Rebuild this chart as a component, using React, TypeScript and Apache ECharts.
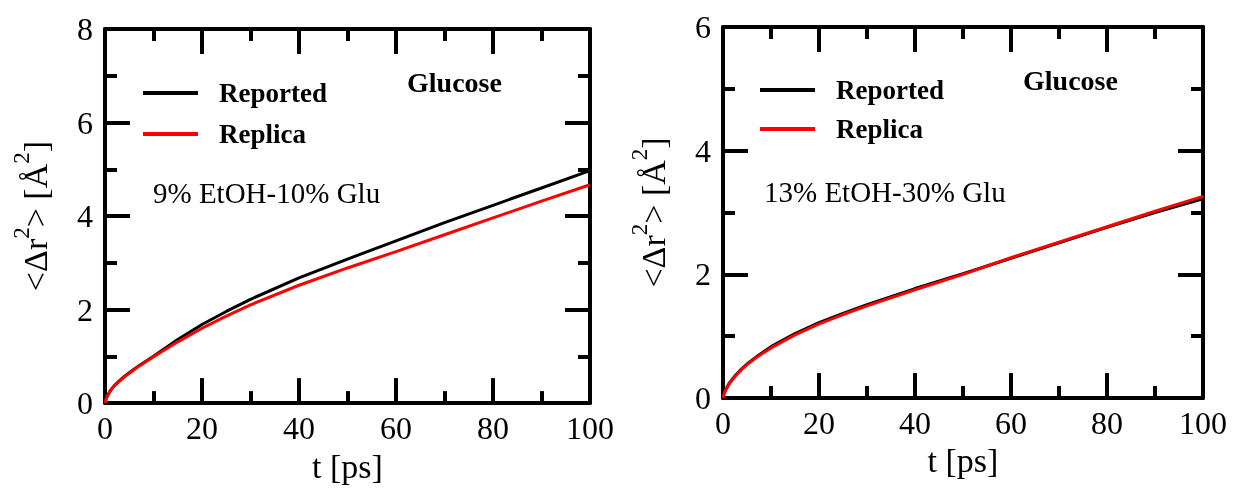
import React, { useEffect, useRef } from "react";
import * as echarts from "echarts";

const FONT = '"Liberation Serif", "Times New Roman", serif';

const times = [0, 0.25, 0.5, 1, 1.5, 2, 3, 4, 5, 7, 10, 15, 20, 25, 30, 40, 50, 60, 70, 80, 90, 100];
const leftReported = [0, 0.1, 0.15, 0.25, 0.32, 0.38, 0.48, 0.57, 0.65, 0.8, 1.0, 1.36, 1.68, 1.96, 2.22, 2.68, 3.08, 3.47, 3.86, 4.23, 4.60, 4.97];
const leftReplica = [0, 0.1, 0.15, 0.25, 0.32, 0.38, 0.47, 0.56, 0.64, 0.79, 0.99, 1.31, 1.60, 1.86, 2.10, 2.52, 2.89, 3.24, 3.60, 3.96, 4.32, 4.67];
const rightReported = [0, 0.08, 0.12, 0.2, 0.26, 0.31, 0.4, 0.48, 0.55, 0.67, 0.83, 1.04, 1.22, 1.37, 1.51, 1.77, 2.01, 2.26, 2.51, 2.76, 3.0, 3.22];
const rightReplica = [0, 0.08, 0.12, 0.19, 0.25, 0.3, 0.39, 0.47, 0.54, 0.66, 0.81, 1.02, 1.20, 1.35, 1.49, 1.75, 2.0, 2.27, 2.52, 2.77, 3.02, 3.26];

const seriesNames = ["Reported", "Replica"];
const seriesColors = ["#000000", "#ff0000"];
const panelTitles = ["Glucose", "Glucose"];
const panelNotes = ["9% EtOH-10% Glu", "13% EtOH-30% Glu"];
const xName = "t [ps]";
const yName = "{m|<Δr}{s|2}{m|> [Å}{s|2}{m|]}";
const leftYMax = 8;
const rightYMax = 6;

function pairs(xs: number[], ys: number[]) {
  return xs.map((x, i) => [x, ys[i]]);
}

function axisBase(max: number, interval: number, position: string) {
  return {
    type: "value",
    min: 0,
    max,
    interval,
    position,
    axisLine: { show: true, onZero: false, lineStyle: { color: "#000000", width: 4 } },
    axisTick: { show: true, inside: true, length: 25, lineStyle: { color: "#000000", width: 4 } },
    minorTick: { show: true, splitNumber: 2, length: 12, lineStyle: { color: "#000000", width: 4 } },
    splitLine: { show: false },
  };
}

type PanelProps = {
  divLeft: number;
  divWidth: number;
  grid: { left: number; top: number; width: number; height: number };
  yMax: number;
  reported: number[];
  replica: number[];
  legendPos: { left: number; top: number; gap: number };
  title: string;
  titlePos: number[];
  note: string;
  notePos: number[];
};

function Panel(p: PanelProps) {
  const ref = useRef<HTMLDivElement>(null);
  useEffect(() => {
    if (!ref.current) return;
    const chart = echarts.init(ref.current, undefined, { renderer: "svg" });
    const option: any = {
      animation: false,
      grid: { left: p.grid.left, top: p.grid.top, width: p.grid.width, height: p.grid.height },
      xAxis: [
        {
          ...axisBase(100, 20, "bottom"),
          axisLabel: { show: true, fontFamily: FONT, fontSize: 32, color: "#000", margin: 9 },
          name: xName,
          nameLocation: "middle",
          nameGap: 40,
          nameTextStyle: { fontFamily: FONT, fontSize: 34, color: "#000" },
        },
        { ...axisBase(100, 20, "top"), axisLabel: { show: false } },
      ],
      yAxis: [
        {
          ...axisBase(p.yMax, 2, "left"),
          axisLabel: { show: true, fontFamily: FONT, fontSize: 32, color: "#000", margin: 12 },
          name: yName,
          nameLocation: "middle",
          nameGap: 53,
          nameMoveOverlap: false,
          nameTextStyle: {
            fontFamily: FONT,
            color: "#000",
            rich: {
              m: { fontFamily: FONT, fontSize: 34, color: "#000", lineHeight: 42, verticalAlign: "bottom" },
              s: { fontFamily: FONT, fontSize: 23, color: "#000", lineHeight: 23, verticalAlign: "top" },
            },
          },
        },
        { ...axisBase(p.yMax, 2, "right"), axisLabel: { show: false } },
      ],
      legend: {
        left: p.legendPos.left,
        top: p.legendPos.top,
        orient: "vertical",
        icon: "rect",
        itemWidth: 55,
        itemHeight: 4,
        itemGap: p.legendPos.gap,
        data: seriesNames,
        selectedMode: false,
        textStyle: {
          fontFamily: FONT,
          fontSize: 27,
          fontWeight: "bold",
          color: "#000",
          lineHeight: 28,
          padding: [0, 0, 0, 16],
        },
      },
      series: [
        {
          type: "line",
          name: seriesNames[0],
          data: pairs(times, p.reported),
          symbol: "none",
          color: seriesColors[0],
          itemStyle: { color: seriesColors[0] },
          lineStyle: { color: seriesColors[0], width: 3 },
        },
        {
          type: "line",
          name: seriesNames[1],
          data: pairs(times, p.replica),
          symbol: "none",
          color: seriesColors[1],
          itemStyle: { color: seriesColors[1] },
          lineStyle: { color: seriesColors[1], width: 3 },
        },
      ],
      graphic: [
        {
          type: "text",
          x: p.titlePos[0],
          y: p.titlePos[1],
          style: {
            text: p.title,
            font: `bold 28px ${FONT}`,
            fill: "#000",
            align: "left",
            verticalAlign: "middle",
          },
        },
        {
          type: "text",
          x: p.notePos[0],
          y: p.notePos[1],
          style: {
            text: p.note,
            font: `29px ${FONT}`,
            fill: "#000",
            align: "left",
            verticalAlign: "middle",
          },
        },
      ],
    };
    chart.setOption(option);
    return () => chart.dispose();
  }, []);
  return (
    <div
      ref={ref}
      style={{ position: "fixed", left: p.divLeft, top: 0, width: p.divWidth, height: 488 }}
    />
  );
}

export default function App() {
  return (
    <div>
      <Panel
        divLeft={0}
        divWidth={617}
        grid={{ left: 105, top: 29, width: 485, height: 377 }}
        yMax={leftYMax}
        reported={leftReported}
        replica={leftReplica}
        legendPos={{ left: 138, top: 74, gap: 13 }}
        title={panelTitles[0]}
        titlePos={[407, 82]}
        note={panelNotes[0]}
        notePos={[153, 193]}
      />
      <Panel
        divLeft={617}
        divWidth={618}
        grid={{ left: 106, top: 27, width: 480, height: 371 }}
        yMax={rightYMax}
        reported={rightReported}
        replica={rightReplica}
        legendPos={{ left: 138, top: 71, gap: 11 }}
        title={panelTitles[1]}
        titlePos={[406, 80]}
        note={panelNotes[1]}
        notePos={[147, 192]}
      />
    </div>
  );
}
